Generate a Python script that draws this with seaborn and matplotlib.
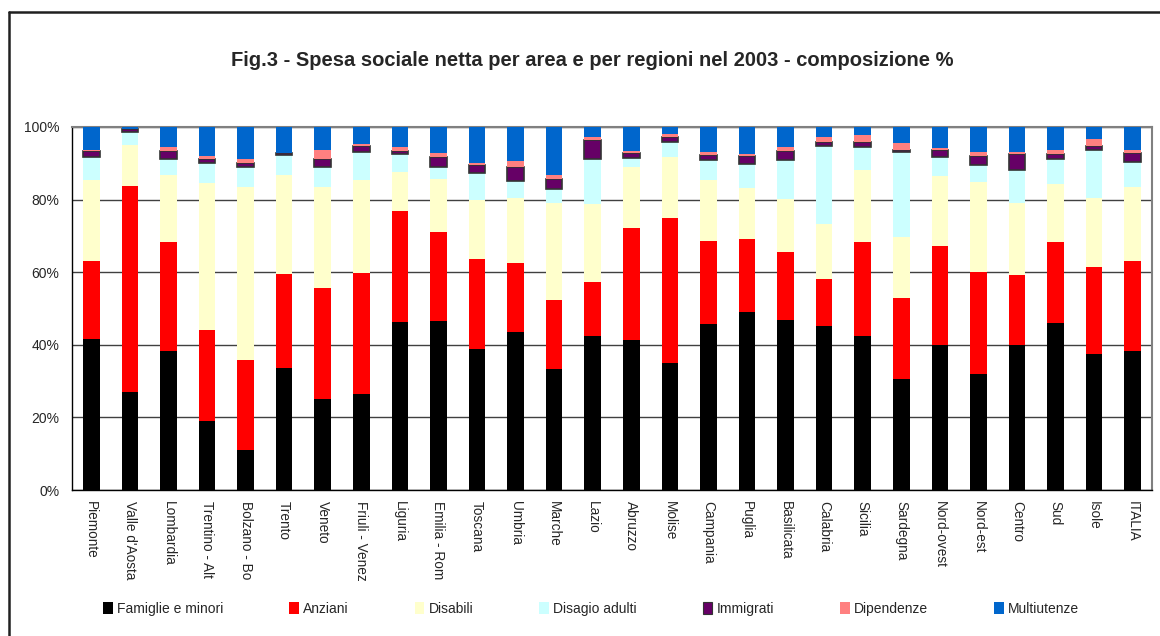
import matplotlib
matplotlib.use("Agg")
import matplotlib.pyplot as plt
from matplotlib.lines import Line2D
from matplotlib.patches import Patch
import seaborn as sns
import numpy as np
import pandas as pd

categories = ["Piemonte", "Valle d'Aosta", "Lombardia", "Trentino - Alt", "Bolzano - Bo",
              "Trento", "Veneto", "Friuli - Venez", "Liguria", "Emilia - Rom", "Toscana",
              "Umbria", "Marche", "Lazio", "Abruzzo", "Molise", "Campania", "Puglia",
              "Basilicata", "Calabria", "Sicilia", "Sardegna", "Nord-ovest", "Nord-est",
              "Centro", "Sud", "Isole", "ITALIA"]

famiglie = [41.6, 27.0, 38.4, 19.1, 11.0, 33.6, 25.1, 26.5, 46.3, 46.6, 38.9, 43.6, 33.4, 42.5,
            41.3, 35.0, 45.8, 49.1, 46.9, 45.2, 42.5, 30.6, 40.0, 32.0, 40.0, 46.0, 37.5, 38.3]
anziani = [21.5, 56.6, 29.8, 25.0, 24.8, 26.0, 30.6, 33.3, 30.6, 24.5, 24.8, 19.0, 19.0, 14.9,
           30.9, 40.0, 22.9, 20.1, 18.8, 12.8, 25.7, 22.3, 27.3, 28.1, 19.3, 22.4, 24.0, 24.8]
disabili = [22.2, 11.3, 18.7, 40.6, 47.8, 27.3, 27.9, 25.7, 10.8, 14.7, 16.3, 17.9, 26.8, 21.5,
            16.9, 16.8, 16.8, 14.1, 14.6, 15.2, 20.0, 16.9, 19.3, 24.8, 19.9, 15.8, 19.0, 20.5]
disagio = [6.4, 3.7, 4.3, 5.4, 5.4, 5.4, 5.4, 7.7, 4.8, 3.2, 7.2, 4.6, 3.8, 12.3,
           2.4, 4.2, 5.3, 6.4, 10.5, 21.7, 6.4, 23.3, 5.1, 4.7, 9.0, 7.0, 13.3, 6.8]
immigrati = [1.6, 0.7, 2.1, 1.1, 1.2, 0.5, 2.1, 1.7, 1.0, 2.7, 2.4, 3.9, 2.8, 5.1,
             1.4, 1.2, 1.4, 2.2, 2.5, 1.1, 1.4, 0.7, 1.9, 2.3, 4.4, 1.3, 1.1, 2.5]
dipendenze = [0.3, 0.1, 1.1, 0.7, 0.9, 0.1, 2.7, 0.5, 1.1, 1.2, 0.4, 1.7, 1.1, 1.0,
              0.6, 1.0, 1.0, 0.6, 1.3, 1.3, 1.7, 1.9, 0.7, 1.3, 0.6, 1.1, 1.9, 0.9]
multiutenze = [6.4, 0.5, 5.6, 8.1, 8.9, 7.1, 6.2, 4.6, 5.4, 7.1, 10.0, 9.3, 13.1, 2.7,
               6.5, 1.8, 6.8, 7.5, 5.4, 2.7, 2.3, 4.3, 5.7, 6.8, 6.8, 6.4, 3.2, 6.2]

series_names = ["Famiglie e minori", "Anziani", "Disabili", "Disagio adulti",
                "Immigrati", "Dipendenze", "Multiutenze"]
series_values = [famiglie, anziani, disabili, disagio, immigrati, dipendenze, multiutenze]
colors = ["#000000", "#FF0000", "#FFFFCC", "#CCFFFF", "#660066", "#FF8080", "#0066CC"]
ytick_vals = [0, 20, 40, 60, 80, 100]
ytick_labels = ["0%", "20%", "40%", "60%", "80%", "100%"]
title = "Fig.3 - Spesa sociale netta per area e per regioni nel 2003 - composizione %"

sns.set_style("white")
plt.rcParams["font.family"] = ["Liberation Sans", "DejaVu Sans"]

W, H = 1160, 636
fig = plt.figure(figsize=(W / 100, H / 100), dpi=100)
ax = fig.add_axes([72 / W, 1 - 490 / H, (1152 - 72) / W, (490 - 127) / H])

# normalise each column to 100
mat = np.array(series_values, dtype=float)
mat = mat / mat.sum(axis=0) * 100

bottom = np.zeros(len(categories))
handles = []
for name, vals, col in zip(series_names, mat, colors):
    df = pd.DataFrame({"cat": categories, "val": vals})
    is_imm = name == "Immigrati"
    sns.barplot(data=df, x="cat", y="val", order=categories, color=col, saturation=1,
                width=0.43, bottom=bottom, errorbar=None, ax=ax,
                edgecolor="#333333" if is_imm else col,
                linewidth=1.2 if is_imm else 0, zorder=3)
    handles.append(Patch(facecolor=col, edgecolor="#333333" if is_imm else col,
                         linewidth=0.8 if is_imm else 0, label=name))
    bottom = bottom + vals

ax.set_xlim(-0.5, len(categories) - 0.5)
ax.set_ylim(0, 100)
ax.set_xlabel("")
ax.set_ylabel("")
ax.set_yticks(ytick_vals)
ax.set_yticklabels(ytick_labels, fontsize=10)
ax.yaxis.grid(True, color="#404040", linewidth=1.0, zorder=0)
ax.set_axisbelow(True)

ax.set_xticks(range(len(categories)))
ax.set_xticklabels(categories, rotation=270, fontsize=9.8, va="top", ha="center")
ax.tick_params(axis="x", which="major", length=0, pad=8)
ax.set_xticks(np.arange(-0.5, len(categories), 1.0), minor=True)
ax.tick_params(axis="x", which="minor", length=5, width=1, color="#000000", direction="out")
ax.tick_params(axis="y", which="major", length=5, width=1, color="#000000", direction="out", pad=4)

for side in ["left", "bottom"]:
    ax.spines[side].set_color("#000000")
    ax.spines[side].set_linewidth(1.0)
for side in ["top", "right"]:
    ax.spines[side].set_visible(True)
    ax.spines[side].set_color("#808080")
    ax.spines[side].set_linewidth(1.5)

fig.text(592 / W, 1 - 60 / H, title, ha="center", va="center", fontsize=14.5, fontweight="bold")

leg = fig.legend(handles=handles, loc="center", bbox_to_anchor=(591 / W, 1 - 609 / H), ncol=7,
                 frameon=False, fontsize=10, handlelength=0.7, handleheight=0.9,
                 handletextpad=0.3, columnspacing=4.75)

# outer frame (top and left visible)
fig.add_artist(Line2D([9 / W, 1.01], [1 - 12 / H, 1 - 12 / H], transform=fig.transFigure,
                      color="#202020", linewidth=1.8))
fig.add_artist(Line2D([9 / W, 9 / W], [-0.01, 1 - 12 / H], transform=fig.transFigure,
                      color="#202020", linewidth=1.8))

fig.savefig("out.png", dpi=100, facecolor="white")
